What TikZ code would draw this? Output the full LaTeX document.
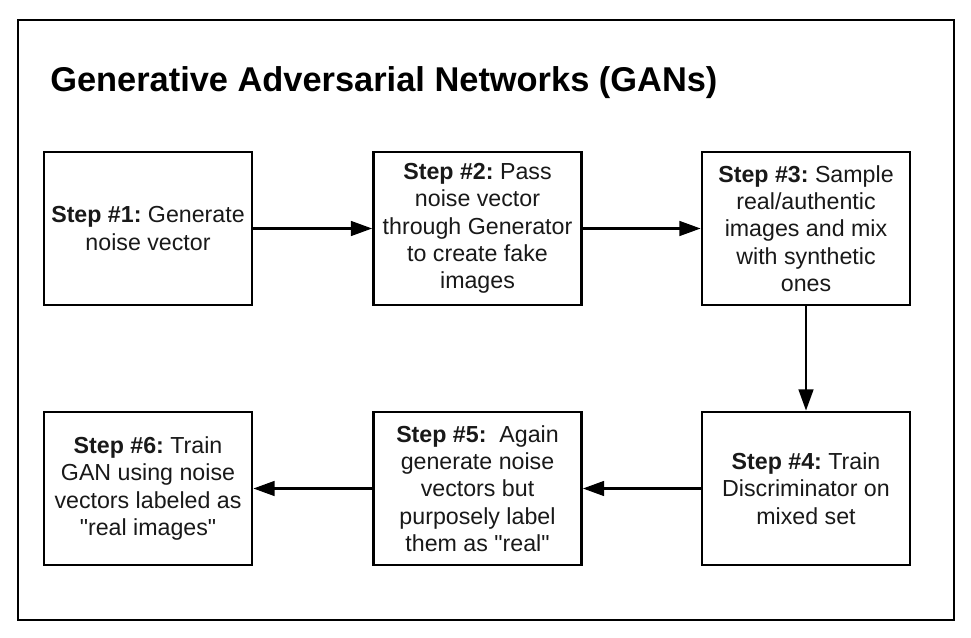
\documentclass[tikz,border=0pt]{standalone}
\usepackage{fontspec}
\setmainfont[Ligatures=TeXOff]{Liberation Sans}
\usetikzlibrary{arrows.meta}
\tikzset{
  stepbox/.style={draw=black, line width=2pt, minimum width=156pt, minimum height=114.75pt,
    align=center, inner sep=0pt, font=\fontsize{17.4}{20.5}\selectfont\frenchspacing, text=black!90},
  arr/.style={line width=2pt, -{Triangle[length=16pt,width=11pt]}},
  frame/.style={draw=black, line width=2pt}
}
\begin{document}
\begin{tikzpicture}[x=0.75pt,y=-0.75pt]
\useasboundingbox (0,0) rectangle (971,638);
\fill[white] (0,0) rectangle (971,638);
\draw[frame] (18,20) rectangle (954,620);
\node[anchor=base west, inner sep=0pt, font=\fontsize{25.8}{30}\selectfont\bfseries] (title) at (50,92) {Generative Adversarial Networks (GANs)};
\node[stepbox] (b1) at (148,228.5) {\textbf{Step \#1:} Generate\\noise vector};
\node[stepbox] (b2) at (477.5,228.5) {\textbf{Step \#2:} Pass\\noise vector\\through Generator\\to create fake\\images};
\node[stepbox] (b3) at (806,228.5) {\textbf{Step \#3:} Sample\\real/authentic\\images and mix\\with synthetic\\ones};
\node[stepbox] (b4) at (806,488.5) {\textbf{Step \#4:} Train\\Discriminator on\\mixed set};
\node[stepbox] (b5) at (477.5,488.5) {\textbf{Step \#5:}\ \ Again\\generate noise\\vectors but\\purposely label\\them as "real"};
\node[stepbox] (b6) at (148,488.5) {\textbf{Step \#6:} Train\\GAN using noise\\vectors labeled as\\"real images"};
\draw[arr] (b1) -- (b2);
\draw[arr] (b2) -- (b3);
\draw[arr] (b3) -- (b4);
\draw[arr] (b4) -- (b5);
\draw[arr] (b5) -- (b6);
\end{tikzpicture}
\end{document}
